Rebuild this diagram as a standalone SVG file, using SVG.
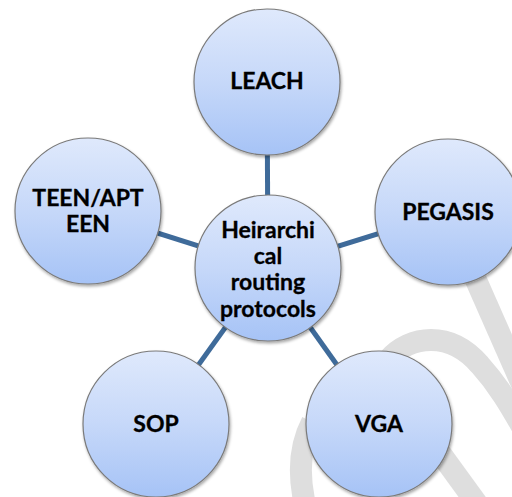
<svg xmlns="http://www.w3.org/2000/svg" width="512" height="497" viewBox="0 0 512 497">
  <defs>
    <linearGradient id="fillGrad" x1="0" y1="0" x2="0" y2="1">
      <stop offset="0" stop-color="#dfe9fc"/>
      <stop offset="0.5" stop-color="#c6d8f9"/>
      <stop offset="1" stop-color="#a6c3f6"/>
    </linearGradient>
    <filter id="shadow" x="-20%" y="-20%" width="140%" height="140%">
      <feDropShadow dx="1" dy="2" stdDeviation="1.5" flood-color="#000" flood-opacity="0.35"/>
    </filter>
  </defs>
  <style>
    .wm { fill: none; stroke: #dedede; stroke-width: 22; stroke-linecap: butt; }
    .conn { stroke: #3f6b9a; stroke-width: 5; fill: none; }
    .node { fill: url(#fillGrad); stroke: #7a7a7a; stroke-width: 1.2; filter: url(#shadow); }
    .lbl { font-family: Lato, "Open Sans", "Liberation Sans", sans-serif; font-weight: 700; font-size: 23px; fill: #000; text-anchor: middle; stroke: #000; stroke-width: 0.3; }
  </style>
  <rect width="512" height="497" fill="#ffffff"/>
  <g id="watermark">
    <path class="wm" d="M 468 262 L 528 398"/>
    <path class="wm" d="M 388 360 C 410 335, 450 330, 480 365 C 498 385, 510 405, 525 432"/>
    <path class="wm" d="M 312 422 C 300 445, 298 470, 304 500"/>
    <path class="wm" d="M 438 450 L 478 505"/>
  </g>
  <g id="connectors">
    <line class="conn" x1="268" y1="268" x2="267" y2="82"/>
    <line class="conn" x1="268" y1="268" x2="448" y2="212"/>
    <line class="conn" x1="268" y1="268" x2="88" y2="211"/>
    <line class="conn" x1="268" y1="268" x2="156" y2="424"/>
    <line class="conn" x1="268" y1="268" x2="379" y2="424"/>
  </g>
  <g id="node-center">
    <circle class="node" cx="268" cy="268" r="73"/>
    <text class="lbl" x="268" y="238">Heirarchi</text>
    <text class="lbl" x="268" y="264">cal</text>
    <text class="lbl" x="268" y="290">routing</text>
    <text class="lbl" x="268" y="317">protocols</text>
  </g>
  <g id="node-leach">
    <circle class="node" cx="267" cy="82" r="73"/>
    <text class="lbl" x="267" y="89">LEACH</text>
  </g>
  <g id="node-pegasis">
    <circle class="node" cx="448" cy="212" r="73"/>
    <text class="lbl" x="448" y="220">PEGASIS</text>
  </g>
  <g id="node-teen">
    <circle class="node" cx="88" cy="211" r="73"/>
    <text class="lbl" x="88" y="206">TEEN/APT</text>
    <text class="lbl" x="88" y="232">EEN</text>
  </g>
  <g id="node-sop">
    <circle class="node" cx="156" cy="424" r="73"/>
    <text class="lbl" x="156" y="432">SOP</text>
  </g>
  <g id="node-vga">
    <circle class="node" cx="379" cy="424" r="73"/>
    <text class="lbl" x="379" y="432">VGA</text>
  </g>
</svg>
